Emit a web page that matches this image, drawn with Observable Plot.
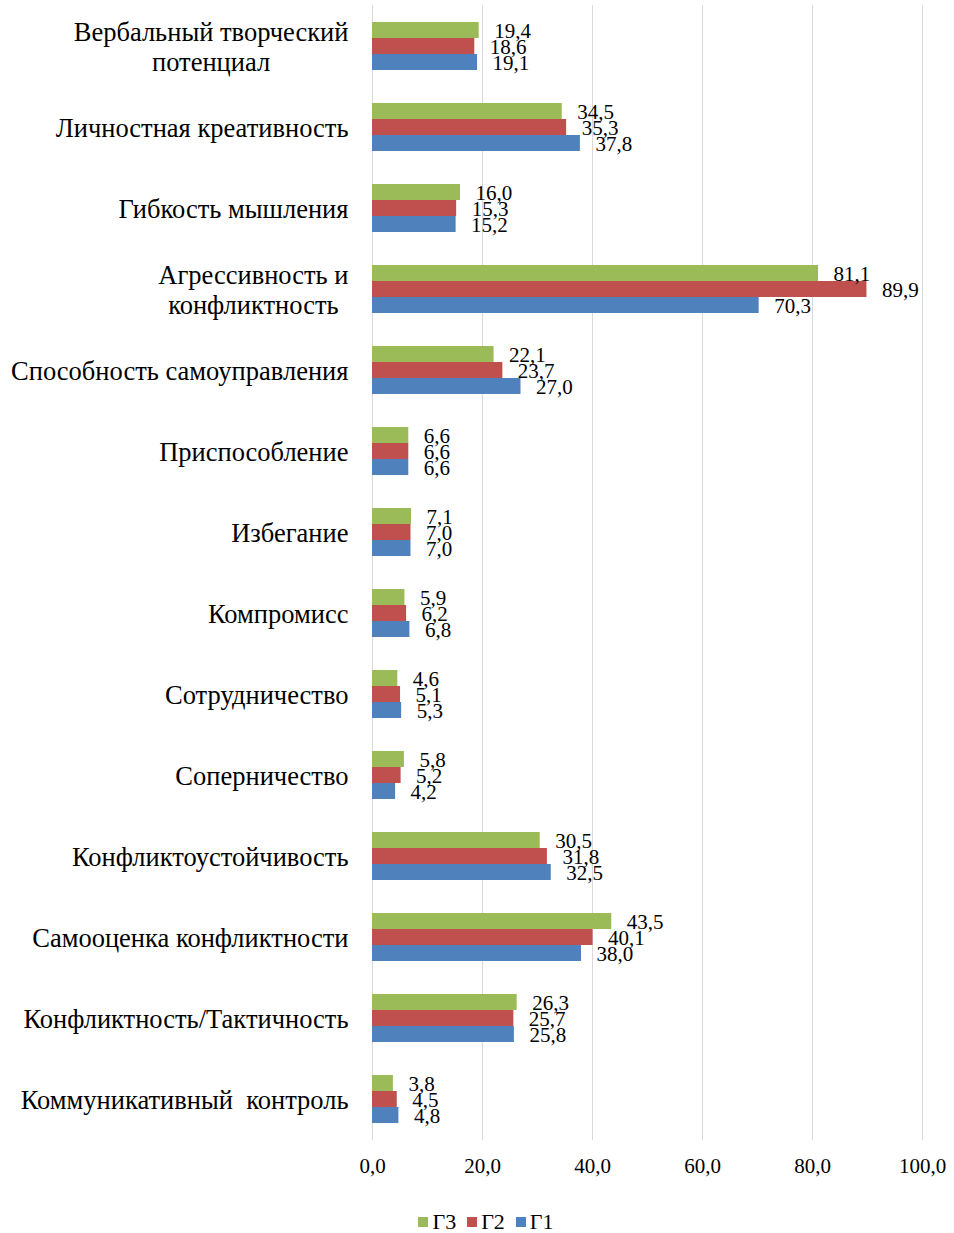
<!DOCTYPE html>
<html><head><meta charset="utf-8">
<script src="https://cdn.jsdelivr.net/npm/d3@7"></script>
<script src="https://cdn.jsdelivr.net/npm/@observablehq/plot@0.6"></script>
<style>
body{margin:0;background:#fff;font-family:"Liberation Serif","Times New Roman",serif;color:#000;}
#legend{display:flex;justify-content:center;align-items:center;gap:11px;padding-left:18px;margin-top:15px;font-size:22px;line-height:24px;}
#legend .item{display:flex;align-items:center;gap:4px;}
#legend .sw{width:10px;height:10px;display:inline-block;}
</style></head><body><div id="chart"></div><div id="legend"></div>
<script>
const categories = [
  "Вербальный творческий\nпотенциал",
  "Личностная креативность",
  "Гибкость мышления",
  "Агрессивность и\nконфликтность",
  "Способность самоуправления",
  "Приспособление",
  "Избегание",
  "Компромисс",
  "Сотрудничество",
  "Соперничество",
  "Конфликтоустойчивость",
  "Самооценка конфликтности",
  "Конфликтность/Тактичность",
  "Коммуникативный  контроль"
];
const series = ["Г3", "Г2", "Г1"];
const g3 = [19.4, 34.5, 16.0, 81.1, 22.1, 6.6, 7.1, 5.9, 4.6, 5.8, 30.5, 43.5, 26.3, 3.8];
const g2 = [18.6, 35.3, 15.3, 89.9, 23.7, 6.6, 7.0, 6.2, 5.1, 5.2, 31.8, 40.1, 25.7, 4.5];
const g1 = [19.1, 37.8, 15.2, 70.3, 27.0, 6.6, 7.0, 6.8, 5.3, 4.2, 32.5, 38.0, 25.8, 4.8];
const xTicks = [0, 20, 40, 60, 80, 100];
const colors = ["#9BBB59", "#C0504D", "#4F81BD"];
const legendOrder = ["Г3", "Г2", "Г1"];

const seriesValues = {"Г3": g3, "Г2": g2, "Г1": g1};
const data = categories.flatMap((c, i) => series.map(s => ({category: c, series: s, value: seriesValues[s][i]})));
const fmt = v => d3.format(".1f")(v).replace(".", ",");

const W = 954, H = 1195, mT = 5, mB = 55;
const padIn = 0.38, padOut = 0.19;
const step = (H - mT - mB) / (categories.length - padIn + 2 * padOut);
const gapHalf = step * padIn / 2;

const plot = Plot.plot({
  width: W,
  height: H,
  marginLeft: 372,
  marginRight: 32,
  marginTop: mT,
  marginBottom: mB,
  facet: {marginTop: 0, marginBottom: 0, marginLeft: 0, marginRight: 0},
  style: {fontFamily: "'Liberation Serif', 'Times New Roman', serif", color: "#000", background: "#fff"},
  x: {domain: [0, 100]},
  fy: {domain: categories, paddingInner: padIn, paddingOuter: padOut},
  y: {domain: series, padding: 0, axis: null},
  color: {domain: series, range: colors},
  marks: [
    Plot.ruleX(xTicks, {x: d => d, stroke: "#d9d9d9", strokeWidth: 1, strokeOpacity: 1, insetTop: -gapHalf - 0.5, insetBottom: -gapHalf - 0.5}),
    Plot.barX(data, {x: "value", y: "series", fy: "category", fill: "series"}),
    Plot.text(data, {x: "value", y: "series", fy: "category", text: d => fmt(d.value), textAnchor: "start", dx: 15, dy: 1, fontSize: 21, fill: "#000"}),
    Plot.axisX({ticks: xTicks, tickFormat: fmt, tickSize: 0, tickPadding: 34, fontSize: 21, anchor: "bottom", label: null}),
    Plot.axisFy({anchor: "left", tickSize: 0, tickPadding: 24, fontSize: 26.5, label: null, lineHeight: 1.14})
  ]
});
document.getElementById("chart").appendChild(plot);

// center multi-line category labels like the original
plot.querySelectorAll('g[aria-label="fy-axis tick label"] text').forEach(t => {
  const tspans = [...t.querySelectorAll("tspan")];
  if (tspans.length < 2) return;
  const w = Math.max(...tspans.map(s => s.getComputedTextLength()));
  t.setAttribute("text-anchor", "middle");
  tspans.forEach(s => s.setAttribute("x", -w / 2));
});

const legend = document.getElementById("legend");
legendOrder.forEach(s => {
  const item = document.createElement("span");
  item.className = "item";
  const sw = document.createElement("span");
  sw.className = "sw";
  sw.style.background = colors[series.indexOf(s)];
  item.appendChild(sw);
  item.appendChild(document.createTextNode(s));
  legend.appendChild(item);
});
</script></body></html>
